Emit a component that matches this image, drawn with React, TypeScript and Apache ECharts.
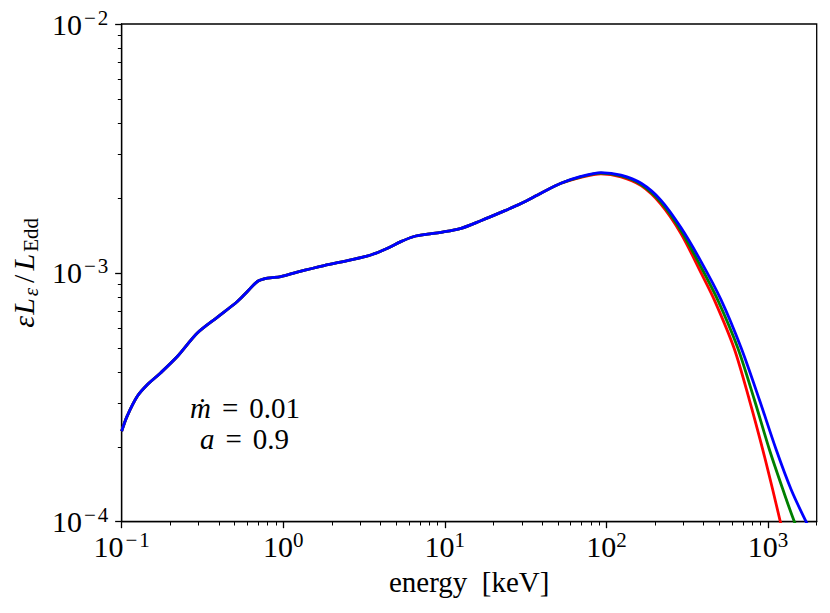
import React, { useEffect, useRef } from "react";
import * as echarts from "echarts";

// Shared low-energy part of the spectrum (all three curves coincide), keV and eL_e/L_Edd
const sharedEnergy = [
  0.1, 0.108, 0.125, 0.144, 0.174, 0.221, 0.294, 0.392, 0.52, 0.6, 0.692, 0.798,
  0.966, 1.22, 1.79, 2.62, 3.48, 4.42, 5.34, 6.45, 7.82, 9.44, 12.6, 16.7, 22.2,
  29.6, 39.3, 52.3,
];
const sharedLum = [
  2.31e-4, 2.65e-4, 3.19e-4, 3.55e-4, 3.96e-4, 4.61e-4, 5.73e-4, 6.64e-4, 7.67e-4,
  8.41e-4, 9.23e-4, 9.52e-4, 9.66e-4, 1.007e-3, 1.07e-3, 1.127e-3, 1.18e-3,
  1.256e-3, 1.335e-3, 1.4e-3, 1.43e-3, 1.455e-3, 1.51e-3, 1.62e-3, 1.75e-3,
  1.9e-3, 2.09e-3, 2.29e-3,
];

// High-energy tails
const redEnergy = [69.5, 92.5, 123, 164, 217, 289, 385, 465, 615, 766, 927, 1067, 1191, 1300];
const redLum = [
  2.42e-3, 2.5e-3, 2.43e-3, 2.24e-3, 1.89e-3, 1.44e-3, 1.0e-3, 7.79e-4,
  5.0e-4, 3.09e-4, 1.95e-4, 1.35e-4, 1.0e-4, 7.9e-5,
];
const greenEnergy = [69.5, 92.5, 123, 164, 217, 289, 385, 488, 649, 823, 1019, 1234, 1456, 1700];
const greenLum = [
  2.43e-3, 2.515e-3, 2.45e-3, 2.265e-3, 1.925e-3, 1.48e-3, 1.055e-3, 7.79e-4,
  5.0e-4, 3.09e-4, 1.95e-4, 1.35e-4, 1.0e-4, 8.0e-5,
];
const blueEnergy = [69.5, 92.5, 123, 164, 217, 289, 385, 512, 681, 884, 1122, 1387, 1719, 2000];
const blueLum = [
  2.44e-3, 2.53e-3, 2.47e-3, 2.29e-3, 1.96e-3, 1.52e-3, 1.11e-3, 7.79e-4,
  5.0e-4, 3.09e-4, 1.95e-4, 1.35e-4, 1.0e-4, 8.3e-5,
];

const xRange = [0.1, 2000];
const yRange = [1e-4, 1e-2];
const xMajorExponents = [-1, 0, 1, 2, 3];
const yMajorExponents = [-4, -3, -2];
const minorMultipliers = [2, 3, 4, 5, 6, 7, 8, 9];

const FONT = "'Liberation Serif', 'DejaVu Serif', serif";

function toLogPairs(e: number[], l: number[]) {
  return e.map((v, i) => [Math.log10(v), Math.log10(l[i])]);
}

function minorLogTicks(exps: number[], lo: number, hi: number) {
  const out: number[] = [];
  exps.forEach((n) => {
    minorMultipliers.forEach((k) => {
      const v = k * Math.pow(10, n);
      if (v >= lo * 0.9999 && v <= hi * 1.0001) out.push(Math.log10(v));
    });
  });
  return out;
}

function expLabel(v: number) {
  const n = Math.round(v);
  const minus = n < 0 ? "{m|\u2212}" : "";
  return "{b|10}" + minus + "{s|" + Math.abs(n) + "}";
}

const tickRich = {
  b: { fontSize: 30, lineHeight: 34, fontFamily: FONT, color: "#000" },
  m: {
    fontSize: 21,
    lineHeight: 21,
    verticalAlign: "top",
    fontFamily: FONT,
    color: "#000",
    padding: [0, 2, 0, 2],
  },
  s: { fontSize: 21, lineHeight: 21, verticalAlign: "top", fontFamily: FONT, color: "#000" },
};

const annoTextStyle = {
  fontFamily: FONT,
  fontSize: 29,
  fontWeight: "normal",
  color: "#000",
  rich: {
    i: { fontFamily: FONT, fontStyle: "italic", fontSize: 29, lineHeight: 32, color: "#000" },
    e: { fontFamily: FONT, fontSize: 29, lineHeight: 32, color: "#000", padding: [0, 11, 0, 11] },
    r: { fontFamily: FONT, fontSize: 29, lineHeight: 32, color: "#000" },
  },
};

export default function App() {
  const ref = useRef<HTMLDivElement>(null);

  useEffect(() => {
    if (!ref.current) return;
    const chart = echarts.init(ref.current, undefined, { renderer: "svg" });

    const xMin = Math.log10(xRange[0]);
    const xMax = Math.log10(xRange[1]);
    const yMin = Math.log10(yRange[0]);
    const yMax = Math.log10(yRange[1]);

    const shared = toLogPairs(sharedEnergy, sharedLum);
    const red = shared.concat(toLogPairs(redEnergy, redLum));
    const green = shared.concat(toLogPairs(greenEnergy, greenLum));
    const blue = shared.concat(toLogPairs(blueEnergy, blueLum));

    const axisLineStyle = { color: "#000", width: 1.3 };

    const line = (name: string, data: number[][], color: string) => ({
      name,
      type: "line",
      xAxisIndex: 0,
      yAxisIndex: 0,
      data,
      showSymbol: false,
      smooth: 0.3,
      clip: true,
      lineStyle: { color, width: 2.8 },
      emphasis: { disabled: true },
    });

    chart.setOption({
      animation: false,
      backgroundColor: "#fff",
      title: [
        {
          text: "{i|\u1e41}{e|=}{r|0.01}",
          left: 190,
          top: 392,
          padding: 0,
          textStyle: annoTextStyle,
        },
        {
          text: "{i|a}{e|=}{r|0.9}",
          left: 200,
          top: 422.5,
          padding: 0,
          textStyle: annoTextStyle,
        },
      ],
      grid: {
        left: 120.7,
        top: 24,
        width: 696,
        height: 497.7,
        show: true,
        borderColor: "#000",
        borderWidth: 1.3,
        backgroundColor: "transparent",
      },
      xAxis: [
        {
          type: "value",
          min: xMin,
          max: xMax,
          position: "bottom",
          axisLine: { show: true, onZero: false, lineStyle: axisLineStyle },
          axisTick: {
            show: true,
            length: 6.5,
            customValues: xMajorExponents,
            lineStyle: axisLineStyle,
          },
          axisLabel: {
            show: true,
            customValues: xMajorExponents,
            margin: 8,
            formatter: (v: number) => expLabel(v),
            rich: tickRich,
          },
          splitLine: { show: false },
          name: "energy  [keV]",
          nameLocation: "middle",
          nameGap: 22,
          nameTextStyle: {
            fontFamily: FONT,
            fontSize: 29,
            lineHeight: 30,
            color: "#000",
          },
        },
        {
          type: "value",
          min: xMin,
          max: xMax,
          position: "bottom",
          axisLine: { show: false, onZero: false },
          axisTick: {
            show: true,
            length: 3.8,
            customValues: minorLogTicks([-1, 0, 1, 2, 3], xRange[0], xRange[1]),
            lineStyle: { color: "#000", width: 1 },
          },
          axisLabel: { show: false },
          splitLine: { show: false },
        },
      ],
      yAxis: [
        {
          type: "value",
          min: yMin,
          max: yMax,
          position: "left",
          axisLine: { show: true, onZero: false, lineStyle: axisLineStyle },
          axisTick: {
            show: true,
            length: 6.5,
            customValues: yMajorExponents,
            lineStyle: axisLineStyle,
          },
          axisLabel: {
            show: true,
            customValues: yMajorExponents,
            margin: 13.4,
            formatter: (v: number) => expLabel(v),
            rich: tickRich,
          },
          splitLine: { show: false },
          name: "{i|\u03b5}{il|L}{is|\u03b5}{r|/}{il|L}{rs|Edd}",
          nameLocation: "middle",
          nameRotate: 90,
          nameGap: 72,
          nameTextStyle: {
            fontFamily: FONT,
            fontSize: 30,
            color: "#000",
            rich: {
              i: { fontFamily: FONT, fontStyle: "italic", fontSize: 30, lineHeight: 36, color: "#000" },
              il: { fontFamily: FONT, fontStyle: "italic", fontSize: 30, lineHeight: 36, color: "#000", padding: [0, 2, 0, 1] },
              r: { fontFamily: FONT, fontSize: 30, lineHeight: 36, color: "#000", padding: [0, 3, 0, 3] },
              is: { fontFamily: FONT, fontStyle: "italic", fontSize: 21, lineHeight: 21, verticalAlign: "bottom", color: "#000", padding: [0, 2, 0, 0] },
              rs: { fontFamily: FONT, fontSize: 21, lineHeight: 21, verticalAlign: "bottom", color: "#000" },
            },
          },
        },
        {
          type: "value",
          min: yMin,
          max: yMax,
          position: "left",
          axisLine: { show: false, onZero: false },
          axisTick: {
            show: true,
            length: 3.8,
            customValues: minorLogTicks([-4, -3], yRange[0], yRange[1]),
            lineStyle: { color: "#000", width: 1 },
          },
          axisLabel: { show: false },
          splitLine: { show: false },
        },
      ],
      series: [
        line("red", red, "#ff0000"),
        line("green", green, "#008000"),
        line("blue", blue, "#0000ff"),
      ],
    });

    return () => chart.dispose();
  }, []);

  return (
    <div
      ref={ref}
      style={{ position: "fixed", left: 0, top: 0, width: 830, height: 613 }}
    />
  );
}
